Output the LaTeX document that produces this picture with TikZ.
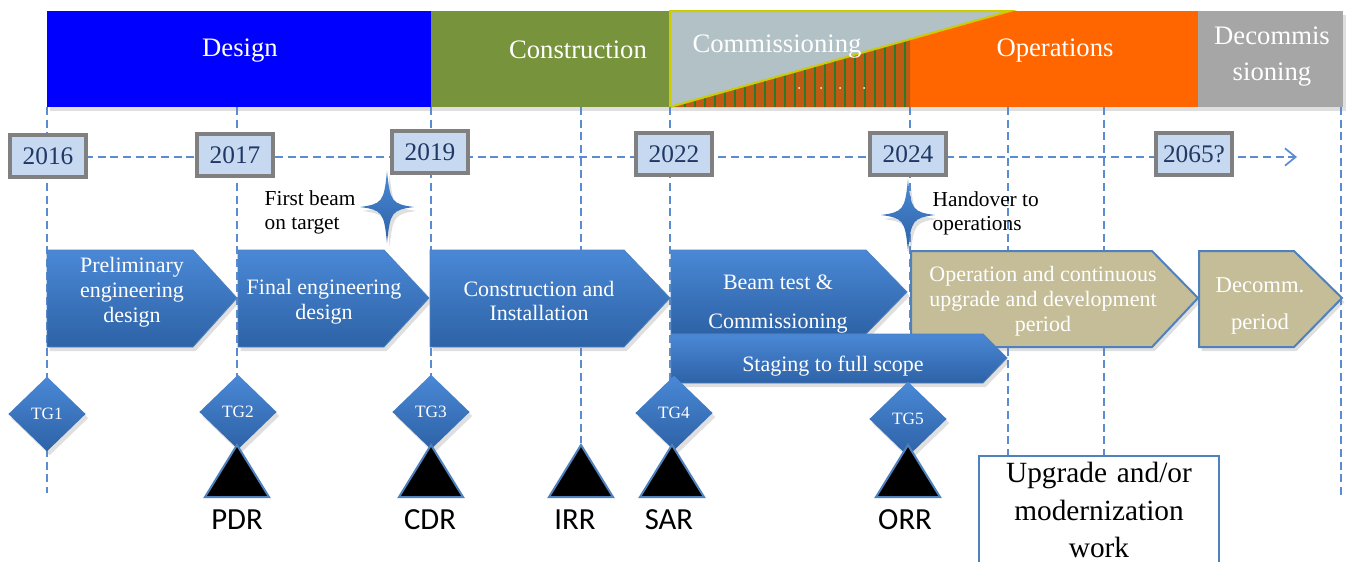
\documentclass[tikz,border=0pt]{standalone}
\usepackage{fontspec}
\setmainfont{Liberation Serif}
\newfontfamily\revfont{Carlito}
\usetikzlibrary{shapes.geometric,arrows.meta,shadows}

\definecolor{designblue}{HTML}{0000FF}
\definecolor{constgreen}{HTML}{77933C}
\definecolor{commgrey}{HTML}{B1C1C5}
\definecolor{hatchbrown}{HTML}{BF5A12}
\definecolor{hatchgreen}{HTML}{2A7A2A}
\definecolor{edgeyellow}{HTML}{CCCC00}
\definecolor{opsorange}{HTML}{FF6600}
\definecolor{decomgrey}{HTML}{A6A6A6}
\definecolor{guideblue}{HTML}{5B8CD2}
\definecolor{yearfill}{HTML}{C6D9F1}
\definecolor{yeartext}{HTML}{1F3864}
\definecolor{steptop}{HTML}{4A88D6}
\definecolor{stepbot}{HTML}{2D62A6}
\definecolor{stepedge}{HTML}{4F81BD}
\definecolor{khaki}{HTML}{C4BD97}

\tikzset{
  softshadow/.style={drop shadow={opacity=0.25, shadow xshift=2pt, shadow yshift=-3pt}},
  guide/.style={guideblue, line width=1.3pt, dash pattern=on 6pt off 3.5pt},
  phaselabel/.style={text=white, align=center, font=\fontsize{20}{27}\selectfont},
  yearbox/.style={draw=gray, line width=3pt, fill=yearfill, text=yeartext, minimum width=57pt,
    minimum height=31pt, inner sep=0pt, font=\fontsize{19}{20}\selectfont},
  bluestep/.style={top color=steptop, bottom color=stepbot, draw=stepedge, line width=0.6pt, softshadow},
  khakistep/.style={fill=khaki, draw=stepedge, line width=1.5pt, softshadow},
  steptext/.style={text=white, align=center, font=\fontsize{16.5}{18.7}\selectfont},
  gate/.style={diamond, aspect=1, minimum width=58pt, minimum height=56pt, inner sep=0pt,
    top color=steptop, bottom color=stepbot, softshadow, text=white, font=\fontsize{13}{14}\selectfont},
  review/.style={fill=black, draw=stepedge, line width=1.5pt},
  revlabel/.style={font=\revfont\fontsize{23}{24}\selectfont},
  note/.style={align=left, anchor=west, font=\fontsize{16}{18}\selectfont},
  sparkle/.pic={
    \shade[top color=steptop, bottom color=stepbot, softshadow] (0,-36) .. controls (3,-5) and (5,-3) .. (27,0)
      .. controls (5,3) and (3,5) .. (0,36) .. controls (-3,5) and (-5,3) .. (-27,0)
      .. controls (-5,-3) and (-3,-5) .. cycle;
  }
}

\begin{document}
\begin{tikzpicture}[x=0.75pt, y=-0.75pt]
    \useasboundingbox (0,0) rectangle (1347,561);
    \clip (0,0) rectangle (1347,561);

    % phase bar
    \path[fill=white, softshadow] (47,11) rectangle (1343,107);
    \fill[designblue] (47,11) rectangle (431,107);
    \fill[constgreen] (431,11) rectangle (670,107);
    \fill[opsorange] (910,11) rectangle (1198,107);
    \fill[decomgrey] (1198,11) rectangle (1343,107);
    \fill[hatchbrown] (670,107) -- (910,107) -- (910,39.2) -- cycle;
    \begin{scope}
      \clip (670,107) -- (910,107) -- (910,39.2) -- cycle;
      \foreach \x in {675,685,...,905}
        \draw[hatchgreen, line width=1pt] (\x,107) -- (\x,35);
    \end{scope}
    \filldraw[fill=commgrey, draw=edgeyellow, line width=1.5pt] (670,11) -- (1010,11) -- (670,107) -- cycle;
    \foreach \x in {799,821,840,864}
      \fill[white] (\x,88) circle (1);

    \node[phaselabel] (design) at (240,51) {Design};
    \node[phaselabel] (construction) at (578,50) {Construction};
    \node[phaselabel] (commissioning) at (777,47) {Commissioning};
    \node[phaselabel] (operations) at (1055,51) {Operations};
    \node[phaselabel] (decommissioning) at (1272,57) {Decommis\\sioning};

    % guide lines
    \foreach \x/\yb in {47/493, 237/445, 431/447, 581/443, 670/445, 910/447, 1008/455, 1104/455, 1341/495}
      \draw[guide] (\x,107) -- (\x,\yb);
    \coordinate (tl) at (47,157);
    \coordinate (tr) at (1297,157);
    \draw[guide, -{Straight Barb[length=8pt, width=13pt]}] (tl) -- (tr);

    % years
    \node[yearbox] (y2016) at (48,156) {2016};
    \node[yearbox] (y2017) at (235,155) {2017};
    \node[yearbox] (y2019) at (430,152) {2019};
    \node[yearbox] (y2022) at (674,154) {2022};
    \node[yearbox] (y2024) at (908,154) {2024};
    \node[yearbox] (y2065) at (1194,154) {2065?};

    % milestones
    \pic (firstbeam) at (387,207) {sparkle};
    \pic (handover) at (908,215) {sparkle};
    \node[note] (beamnote) at (260,212) {First beam\\on target};
    \node[note] (handnote) at (928,213) {Handover to\\operations};

    % process steps
    \path[bluestep] (47,250) -- (193,250) -- (237,298) -- (193,347) -- (47,347) -- cycle;
    \path[bluestep] (238,250) -- (384,250) -- (429,298) -- (384,347) -- (238,347) -- cycle;
    \path[bluestep] (430,250) -- (624,250) -- (670,298) -- (624,347) -- (430,347) -- cycle;
    \path[bluestep] (671,250) -- (866,250) -- (907,292) -- (866,334) -- (671,334) -- cycle;
    \path[khakistep] (911,251) -- (1152,251) -- (1198,298) -- (1152,347) -- (911,347) -- cycle;
    \path[khakistep] (1199,251) -- (1294,251) -- (1342,298) -- (1294,347) -- (1199,347) -- cycle;
    \path[bluestep] (671,334) -- (983,334) -- (1007,358) -- (983,383) -- (671,383) -- cycle;

    \node[steptext] (prelim) at (132,292) {Preliminary\\engineering\\design};
    \node[steptext] (final) at (324,302) {Final engineering\\design};
    \node[steptext] (install) at (539,301) {Construction and\\Installation};
    \node[steptext, font=\fontsize{16.5}{29}\selectfont] (beamtest) at (778,304) {Beam test \&\\Commissioning};
    \node[steptext] (staging) at (833,366) {Staging to full scope};
    \node[steptext] (opperiod) at (1043,301) {Operation and continuous\\upgrade and development\\period};
    \node[steptext, font=\fontsize{17}{28}\selectfont] (decperiod) at (1260,306) {Decomm.\\period};

    % gates and reviews
    \foreach \x/\y/\g in {47/414/1, 238/412/2, 431/412/3, 674/413/4, 908/419/5}
      \node[gate] (tg\g) at (\x,\y) {TG\g};
    \foreach \x/\lx/\lab in {237/237/PDR, 431/430/CDR, 581/575/IRR, 672/669/SAR, 908/905/ORR}{
      \filldraw[review] (\x,445) -- (\x+32,497) -- (\x-32,497) -- cycle;
      \node[revlabel] (\lab) at (\lx,520) {\lab};
    }

    \node[draw=stepedge, line width=1.2pt, fill=white, anchor=north, minimum width=180pt, text width=172pt,
      align=center, inner xsep=3pt, inner ysep=5pt, font=\fontsize{22}{28}\selectfont] (upgrade) at (1099,455)
      {Upgrade and/or\\modernization\\work};
\end{tikzpicture}
\end{document}
